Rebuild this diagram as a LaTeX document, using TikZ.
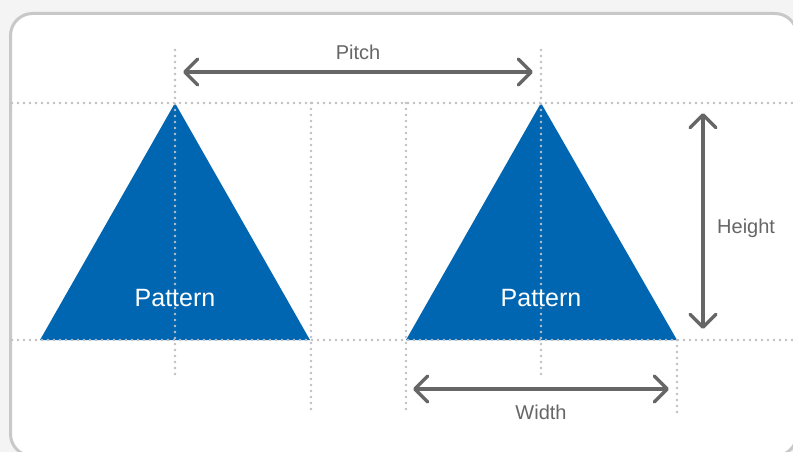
\documentclass[tikz,border=0pt]{standalone}
\usepackage{fontspec}
\setmainfont{Liberation Sans}
\usetikzlibrary{arrows.meta}
\definecolor{patblue}{RGB}{0,102,178}
\definecolor{framegray}{RGB}{200,200,200}
\definecolor{dotgray}{RGB}{192,192,196}
\definecolor{arrowgray}{RGB}{102,102,102}
\definecolor{outbg}{RGB}{244,244,244}
\begin{document}
\begin{tikzpicture}[x=1pt,y=-1pt,
  guide/.style={draw=dotgray, line width=2.6pt, line cap=round, dash pattern=on 0pt off 6pt},
  barb/.tip={Straight Barb[length=13pt,width=26pt,line cap=round,line join=round]},
  dim/.style={draw=arrowgray, line width=3.5pt, line cap=round, barb-barb},
  lbl/.style={text=arrowgray, font=\fontsize{20}{24}\selectfont, inner sep=0pt},
  pat/.style={text=white, font=\fontsize{25}{30}\selectfont, inner sep=0pt},
  tri/.style={fill=patblue}]
\fill[outbg] (0,0) rectangle (793,452);
\useasboundingbox (0,0) rectangle (793,452);
\draw[framegray, line width=3pt, fill=white, rounded corners=22pt] (10.5,13.5) rectangle (797,456);
% patterns
\fill[tri] (40,340) -- (175,103) -- (310,340) -- cycle;
\fill[tri] (406,340) -- (541,103) -- (677,340) -- cycle;
% guides
\draw[guide] (12,103) -- (793,103);
\draw[guide] (12,340) -- (793,340);
\draw[guide] (175,50) -- (175,374);
\draw[guide] (311,103) -- (311,413);
\draw[guide] (406,103) -- (406,413);
\draw[guide] (541,50) -- (541,374);
\draw[guide] (677,340) -- (677,412);
% labels
\node[pat, anchor=base] (pat1) at (175,306) {Pattern};
\node[pat, anchor=base] (pat2) at (541,306) {Pattern};
% dimension arrows
\coordinate (pitchL) at (183,72);
\coordinate (pitchR) at (533,72);
\draw[dim] (pitchL) -- (pitchR);
\node[lbl, anchor=base] (pitch) at (358,60) {Pitch};
\coordinate (heightT) at (703,113);
\coordinate (heightB) at (703,329);
\draw[dim] (heightT) -- (heightB);
\node[lbl, anchor=base west] (height) at (717,233) {Height};
\coordinate (widthL) at (413,389);
\coordinate (widthR) at (669,389);
\draw[dim] (widthL) -- (widthR);
\node[lbl, anchor=base] (width) at (541,419) {Width};
\end{tikzpicture}
\end{document}
